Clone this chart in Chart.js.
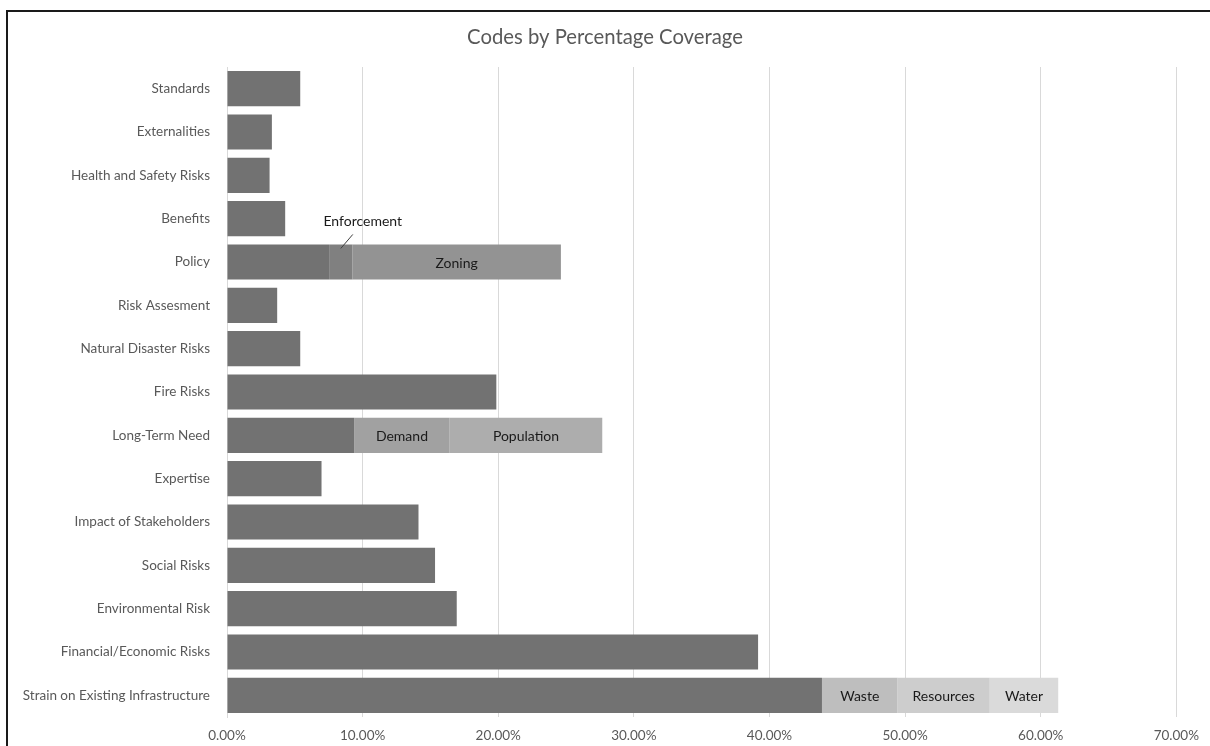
<!DOCTYPE html>
<html>
<head>
<meta charset="utf-8">
<script src="https://cdn.jsdelivr.net/npm/chart.js@4/dist/chart.umd.min.js"></script>
<style>
  html, body { margin: 0; padding: 0; background: #ffffff; }
  #wrap { position: relative; width: 1210px; height: 746px; }
</style>
</head>
<body>
<div id="wrap"><canvas id="c" width="1210" height="746"></canvas></div>
<script>
// ---- data ----
const chartTitle = 'Codes by Percentage Coverage';
const categories = [
  'Standards', 'Externalities', 'Health and Safety Risks', 'Benefits', 'Policy',
  'Risk Assesment', 'Natural Disaster Risks', 'Fire Risks', 'Long-Term Need', 'Expertise',
  'Impact of Stakeholders', 'Social Risks', 'Environmental Risk', 'Financial/Economic Risks',
  'Strain on Existing Infrastructure'
];
const baseValues = [5.40, 3.31, 3.14, 4.29, 7.53, 3.70, 5.40, 19.86, 9.38, 6.97, 14.12, 15.34, 16.94, 39.16, 43.87];
const sub1Values = [null, null, null, null, 1.72, null, null, null, 7.04, null, null, null, null, null, 5.57];
const sub1Labels = ['', '', '', '', 'Enforcement', '', '', '', 'Demand', '', '', '', '', '', 'Waste'];
const sub2Values = [null, null, null, null, 15.37, null, null, null, 11.25, null, null, null, null, null, 6.80];
const sub2Labels = ['', '', '', '', 'Zoning', '', '', '', 'Population', '', '', '', '', '', 'Resources'];
const sub3Values = [null, null, null, null, null, null, null, null, null, null, null, null, null, null, 5.05];
const sub3Labels = ['', '', '', '', '', '', '', '', '', '', '', '', '', '', 'Water'];
const xTicks = [0, 10, 20, 30, 40, 50, 60, 70];

// ---- styles ----
const FONT = 'Lato, "Open Sans", "Liberation Sans", sans-serif';
const TEXT = '#595959';
const baseColor = '#727272';
const sub1Colors = categories.map((c, i) => i === 4 ? '#808080' : i === 8 ? '#a1a1a1' : '#bebebe');
const sub2Colors = categories.map((c, i) => i === 4 ? '#939393' : i === 8 ? '#adadad' : '#cdcdcd');
const sub3Colors = categories.map(() => '#dadada');

const frame = {
  id: 'frame',
  beforeDraw(chart) {
    const ctx = chart.ctx;
    ctx.save();
    ctx.fillStyle = '#ffffff';
    ctx.fillRect(0, 0, chart.width, chart.height);
    ctx.fillStyle = '#1a1a1a';
    ctx.fillRect(6, 10, chart.width - 6, 2);
    ctx.fillRect(6, 10, 2, chart.height - 10);
    // title, centred on the whole picture
    ctx.fillStyle = TEXT;
    ctx.font = '20.3px ' + FONT;
    ctx.textAlign = 'center';
    ctx.textBaseline = 'middle';
    ctx.fillText(chartTitle, chart.width / 2, 37);
    ctx.restore();
  }
};

const segLabels = {
  id: 'segLabels',
  afterDatasetsDraw(chart) {
    const ctx = chart.ctx;
    ctx.save();
    ctx.font = '14px ' + FONT;
    ctx.fillStyle = '#1a1a1a';
    ctx.textBaseline = 'middle';
    ctx.textAlign = 'center';
    chart.data.datasets.forEach((ds, d) => {
      if (!ds.segLabels) return;
      const meta = chart.getDatasetMeta(d);
      meta.data.forEach((el, i) => {
        const txt = ds.segLabels[i];
        if (!txt) return;
        const p = el.getProps(['x', 'y', 'base', 'height'], true);
        const w = Math.abs(p.x - p.base);
        const cx = (p.x + p.base) / 2;
        const tw = ctx.measureText(txt).width;
        if (tw < w - 4) {
          ctx.fillText(txt, cx, p.y + 1);
        } else {
          const top = p.y - p.height / 2;
          ctx.strokeStyle = '#404040';
          ctx.lineWidth = 1;
          ctx.beginPath();
          ctx.moveTo(cx, top + 4);
          ctx.lineTo(cx + 12, top - 10);
          ctx.stroke();
          ctx.fillText(txt, cx + 22, top - 23);
        }
      });
    });
    ctx.restore();
  }
};

new Chart(document.getElementById('c'), {
  type: 'bar',
  data: {
    labels: categories,
    datasets: [
      { data: baseValues, backgroundColor: baseColor },
      { data: sub1Values, backgroundColor: sub1Colors, segLabels: sub1Labels },
      { data: sub2Values, backgroundColor: sub2Colors, segLabels: sub2Labels },
      { data: sub3Values, backgroundColor: sub3Colors, segLabels: sub3Labels }
    ]
  },
  options: {
    indexAxis: 'y',
    responsive: false,
    animation: false,
    layout: { padding: { top: 67, right: 32, bottom: 3, left: 0 } },
    datasets: { bar: { categoryPercentage: 1, barPercentage: 0.81, borderWidth: 0 } },
    plugins: {
      legend: { display: false },
      tooltip: { enabled: false },
      title: { display: false }
    },
    scales: {
      x: {
        stacked: true,
        min: 0, max: 70,
        afterBuildTicks(s) { s.ticks = xTicks.map(v => ({ value: v })); },
        afterFit(s) { s.height = 26; },
        ticks: {
          color: TEXT,
          font: { family: FONT, size: 13.5 },
          padding: 11,
          maxRotation: 0,
          callback: v => Number(v).toFixed(2) + '%'
        },
        grid: { color: '#d9d9d9', lineWidth: 1, drawTicks: false },
        border: { display: false }
      },
      y: {
        stacked: true,
        afterFit(s) { s.width = 227; },
        ticks: {
          color: TEXT,
          font: { family: FONT, size: 13.5 },
          padding: 17,
          autoSkip: false
        },
        grid: { display: false, drawTicks: false },
        border: { display: true, color: '#d9d9d9' }
      }
    }
  },
  plugins: [frame, segLabels]
});
</script>
</body>
</html>
